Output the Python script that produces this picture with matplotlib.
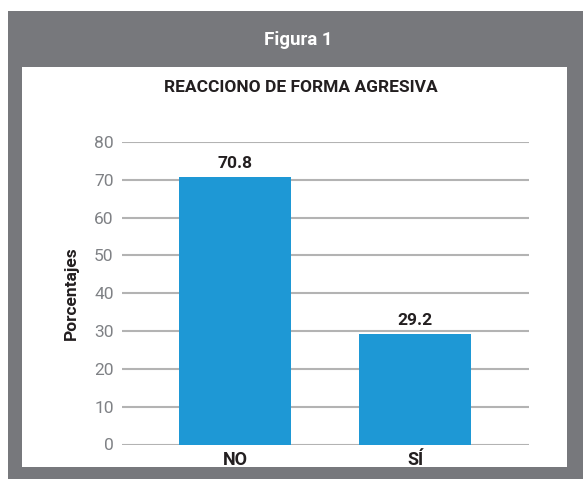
import matplotlib.pyplot as plt
from matplotlib.patches import Rectangle

categories = ["NO", "SÍ"]
values = [70.8, 29.2]
yticks = [0, 10, 20, 30, 40, 50, 60, 70, 80]

W, H = 583, 479
plt.rcParams['font.family'] = ['Roboto', 'DejaVu Sans']

fig = plt.figure(figsize=(W / 100, H / 100), dpi=100)
fig.patch.set_facecolor('white')

def fx(px):
    return px / W

def fy(py):
    return 1 - py / H

# gray frame and white panel
fig.patches.append(Rectangle((fx(8), 0), fx(583 - 8), fy(11), transform=fig.transFigure,
                             facecolor='#77787c', edgecolor='none', zorder=0))
fig.patches.append(Rectangle((fx(22), fy(467)), fx(567 - 22), (467 - 67) / H, transform=fig.transFigure,
                             facecolor='white', edgecolor='none', zorder=1))
fig.text(fx(298), fy(40), "Figura 1", color='white', fontsize=13.5, fontweight='bold',
         ha='center', va='center')
fig.text(fx(301), fy(88), "REACCIONO DE FORMA AGRESIVA", color='#231f20', fontsize=12.5,
         fontweight='bold', ha='center', va='center')

ax = fig.add_axes([fx(122), fy(444.5), fx(529 - 122), (444.5 - 142) / H])
ax.set_facecolor('none')
ax.set_zorder(2)
x = [0, 1]
bars = ax.bar(x, values, width=0.622, color='#1e98d5', zorder=3)
for xi, v in zip(x, values):
    ax.text(xi, v + 1.5, f"{v:.1f}", ha='center', va='bottom', fontsize=12.5,
            fontweight='bold', color='#231f20')

ax.set_xlim(-0.628, 1.633)
ax.set_ylim(0, 80)
ax.set_yticks(yticks)
ax.set_yticklabels([str(t) for t in yticks], color='#7f8185', fontsize=12.5)
ax.yaxis.grid(True, color='#b3b3b3', linewidth=1.5)
ax.set_axisbelow(True)
ax.tick_params(axis='y', length=0, pad=6)
ax.tick_params(axis='x', length=0, pad=5)
ax.set_xticks(x)
ax.set_xticklabels(categories, fontsize=13, fontweight='bold', color='#231f20')
for s in ax.spines.values():
    s.set_visible(False)
ax.set_ylabel("Porcentajes", fontsize=12.5, fontweight='bold', color='#231f20', labelpad=11)

fig.savefig('out.png', dpi=100)
